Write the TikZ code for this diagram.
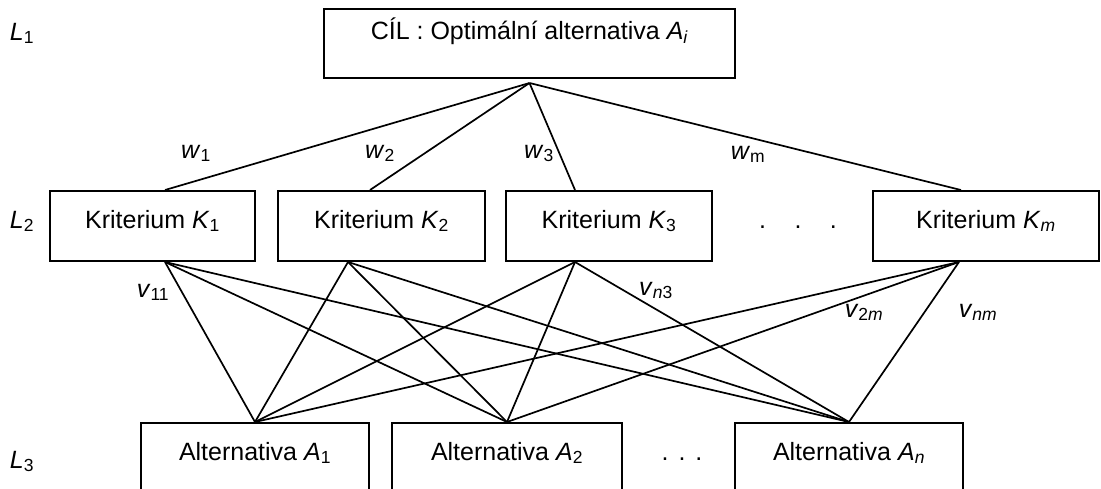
\documentclass[tikz,border=0pt]{standalone}
\usepackage{fontspec}
\setmainfont{Liberation Sans}
\begin{document}
\begin{tikzpicture}[x=1pt, y=-1pt,
  every node/.style={font=\fontsize{25}{30}\selectfont},
  box/.style={draw, line width=2pt, inner xsep=0pt, inner ysep=0pt,
    text height=37pt, text depth=33pt},
  link/.style={line width=1.7pt},
  lab/.style={anchor=base, inner sep=0pt}]
\useasboundingbox (0,0) rectangle (1101,488);
% levels
\foreach \y/\i in {40/1, 228/2, 468/3}
\node[lab] (l\i) at (22,\y) {\textit{L}\textsubscript{\i}};
% goal
\node[box, minimum width=411pt, text height=30pt, text depth=39pt] (cil)
 at (529.5,43.5) {CÍL : Optimální alternativa \textit{A}\textsubscript{\textit{i}}};
% criteria
\node[box, minimum width=205pt] (k1) at (152.5,226) {Kriterium \textit{K}\textsubscript{1}};
\node[box, minimum width=207pt] (k2) at (381.5,226) {Kriterium \textit{K}\textsubscript{2}};
\node[box, minimum width=206pt] (k3) at (609,226) {Kriterium \textit{K}\textsubscript{3}};
\node[box, minimum width=226pt] (km) at (986,226) {Kriterium \textit{K}\textsubscript{\textit{m}}};
\node[lab] (kdots) at (798,228) {.\hspace{28.5pt}.\hspace{28.5pt}.};
% alternatives
\node[box, minimum width=228pt] (a1) at (255,458) {Alternativa \textit{A}\textsubscript{1}};
\node[box, minimum width=230pt] (a2) at (507,458) {Alternativa \textit{A}\textsubscript{2}};
\node[box, minimum width=228pt] (an) at (849,458) {Alternativa \textit{A}\textsubscript{\textit{n}}};
\node[lab] (adots) at (682,460) {.\hspace{10pt}.\hspace{10pt}.};
% attach points
\coordinate (top) at ([yshift=-4pt]cil.south);
\foreach \k/\t/\b in {k1/12.5/12.5, k2/-11.5/-33.5, k3/-34/-34, km/-25/-27}{
  \coordinate (\k-t) at ([xshift=\t pt]\k.north);
  \coordinate (\k-b) at ([xshift=\b pt]\k.south);
}
\foreach \k in {k1,k2,k3,km}
\draw[link] (top) -- (\k-t);
\foreach \k in {k1,k2,k3,km}
  \foreach \a in {a1,a2,an}
  \draw[link] (\k-b) -- (\a.north);
% weights
\node[lab] (w1) at (196,158) {\textit{w}\textsubscript{1}};
\node[lab] (w2) at (380,158) {\textit{w}\textsubscript{2}};
\node[lab] (w3) at (539,158) {\textit{w}\textsubscript{3}};
\node[lab] (wm) at (748,159) {\textit{w}\textsubscript{m}};
\node[lab] (v11) at (153,297) {\textit{v}\textsubscript{11}};
\node[lab] (vn3) at (656,295) {\textit{v}\textsubscript{\textit{n}3}};
\node[lab] (v2m) at (864,317) {\textit{v}\textsubscript{2\textit{m}}};
\node[lab] (vnm) at (978,317) {\textit{v}\textsubscript{\textit{nm}}};
\end{tikzpicture}
\end{document}
